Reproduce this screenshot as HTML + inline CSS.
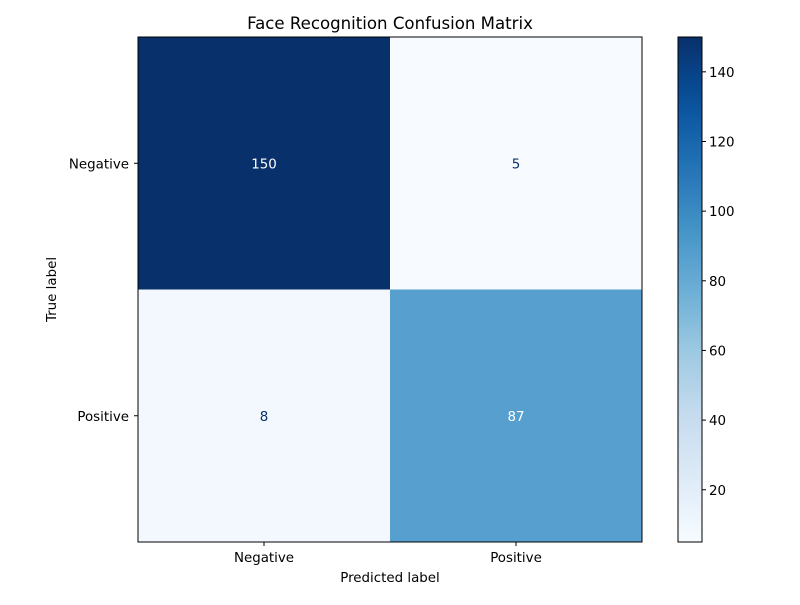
<!DOCTYPE html>
<html><head><meta charset="utf-8"><style>
body{margin:0;background:#fff;}
svg text{font-family:"DejaVu Sans","Liberation Sans",sans-serif;fill:#000;}
</style></head><body>
<svg id="chart" width="800" height="600" xmlns="http://www.w3.org/2000/svg">
<rect width="800" height="600" fill="#fff"/>
<text x="390" y="29" font-size="16.6" text-anchor="middle">Face Recognition Confusion Matrix</text>
<g id="cells"></g>
<g id="axes"></g>
<g id="cbar"></g>
</svg>
<script>
const classLabels = ["Negative", "Positive"];
const matrixValues = [[150, 5], [8, 87]];
const colorbarTicks = [20, 40, 60, 80, 100, 120, 140];

const NS = "http://www.w3.org/2000/svg";
const L = 138, T = 37, W = 504, H = 505;
const CBX = 678, CBW = 24;
const FS = "13.4";
const flat = matrixValues.flat();
const vmin = Math.min(...flat), vmax = Math.max(...flat);
const stops = ["#f7fbff","#deebf7","#c6dbef","#9ecae1","#6baed6","#4292c6","#2171b5","#08519c","#08306b"];
function hex(h){return [1,3,5].map(i=>parseInt(h.substr(i,2),16));}
function blues(t){
  t=Math.max(0,Math.min(1,t));const p=t*(stops.length-1);const i=Math.min(Math.floor(p),stops.length-2);const f=p-i;
  const a=hex(stops[i]),b=hex(stops[i+1]);
  return "rgb("+a.map((v,k)=>Math.round(v+(b[k]-v)*f)).join(",")+")";
}
function norm(v){return (v-vmin)/(vmax-vmin);}
const n = classLabels.length;
const cw = W/n, ch = H/n;
function xPos(j){return L+j*cw;}
function yPos(i){return T+i*ch;}
function cbY(v){return T+H-norm(v)*H;}
function mk(tag,attrs,parent){const e=document.createElementNS(NS,tag);for(const k in attrs)e.setAttribute(k,attrs[k]);parent.appendChild(e);return e;}

const cells=document.getElementById("cells");
matrixValues.forEach((row,i)=>row.forEach((v,j)=>{
  const r=mk("rect",{x:xPos(j),y:yPos(i),width:cw,height:ch,fill:blues(norm(v))},cells);
  
  
  const t=mk("text",{x:xPos(j)+cw/2,y:yPos(i)+ch/2+5,"font-size":FS,"text-anchor":"middle"},cells);
  t.style.fill = v > (vmin+vmax)/2 ? "#fff" : "#08306b";
  t.textContent=v;
  
  
}));
const ax=document.getElementById("axes");
const fr=mk("rect",{x:L,y:T,width:W,height:H,fill:"none",stroke:"#000","stroke-width":1},ax);


classLabels.forEach((lab,k)=>{
  const cx=xPos(k)+cw/2, cy=yPos(k)+ch/2;
  mk("line",{x1:cx,x2:cx,y1:T+H,y2:T+H+4,stroke:"#000"},ax);
  const tx=mk("text",{x:cx,y:T+H+20,"font-size":FS,"text-anchor":"middle"},ax);
  tx.textContent=lab;
  
  
  mk("line",{x1:L-4,x2:L,y1:cy,y2:cy,stroke:"#000"},ax);
  const ty=mk("text",{x:L-9,y:cy+5,"font-size":FS,"text-anchor":"end"},ax);
  ty.textContent=lab;
  
  
});
const xl=mk("text",{x:L+W/2,y:582,"font-size":FS,"text-anchor":"middle"},ax);
xl.textContent="Predicted label";


const yl=mk("text",{x:0,y:0,"font-size":FS,"text-anchor":"middle",transform:"translate(56,"+(T+H/2)+") rotate(-90)"},ax);
yl.textContent="True label";



const cb=document.getElementById("cbar");
const defs=mk("defs",{},cb);
const g=mk("linearGradient",{id:"bg",x1:0,y1:1,x2:0,y2:0},defs);
for(let k=0;k<=20;k++){mk("stop",{offset:k/20,"stop-color":blues(k/20)},g);}
const cr=mk("rect",{x:CBX,y:T,width:CBW,height:H,fill:"url(#bg)",stroke:"#000"},cb);


colorbarTicks.forEach(v=>{
  const y=cbY(v);
  mk("line",{x1:CBX+CBW,x2:CBX+CBW+4,y1:y,y2:y,stroke:"#000"},cb);
  const t=mk("text",{x:CBX+CBW+7,y:y+5,"font-size":FS},cb);
  t.textContent=v;
  
  
});
</script>
</body></html>
